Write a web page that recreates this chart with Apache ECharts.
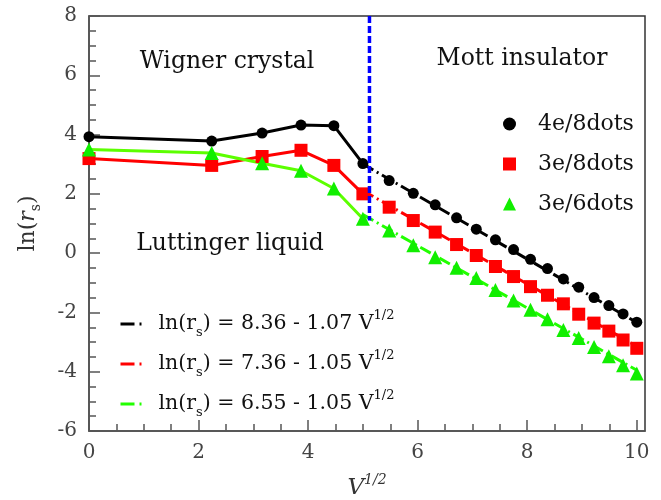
<!DOCTYPE html>
<html>
<head>
<meta charset="utf-8">
<script src="https://cdn.jsdelivr.net/npm/echarts@6/dist/echarts.min.js"></script>
<style>
    html, body { margin: 0; padding: 0; background: #fff; }
    #chart { width: 661px; height: 500px; }
</style>
</head>
<body>
<div id="chart"></div>
<script>
    // V^(1/2) positions of the computed points
    const sqrtV = [0, 2.24, 3.16, 3.87, 4.47, 5.00, 5.48, 5.92, 6.32, 6.71, 7.07, 7.42, 7.75, 8.06, 8.37, 8.66, 8.94, 9.22, 9.49, 9.75, 10.0];
    const lnRs4e8 = [3.93, 3.78, 4.05, 4.32, 4.30, 3.02, 2.45, 2.02, 1.63, 1.19, 0.81, 0.45, 0.12, -0.21, -0.52, -0.87, -1.15, -1.50, -1.77, -2.05, -2.33];
    const lnRs3e8 = [3.19, 2.96, 3.26, 3.47, 2.96, 2.00, 1.55, 1.10, 0.71, 0.29, -0.08, -0.45, -0.79, -1.13, -1.42, -1.71, -2.06, -2.36, -2.63, -2.93, -3.21];
    const lnRs3e6 = [3.50, 3.38, 3.03, 2.78, 2.18, 1.16, 0.76, 0.27, -0.14, -0.49, -0.84, -1.24, -1.60, -1.91, -2.23, -2.59, -2.86, -3.17, -3.48, -3.78, -4.06];
    const solidCount = 6; // points joined by the solid line

    // linear fits, end points
    const fitX = [5.0, 10.0];
    const fit4e8 = [3.01, -2.34];
    const fit3e8 = [2.11, -3.14];
    const fit3e6 = [1.30, -3.95];
    const fitIntercept = ['8.36', '7.36', '6.55'];
    const fitSlope = ['1.07', '1.05', '1.05'];

    // phase boundary
    const boundaryX = [5.12, 5.12];
    const boundaryY = [8, 1.1];

    const xMajorTicks = [0, 2, 4, 6, 8, 10];
    const xMinorTicks = [0.5, 1, 1.5, 2.5, 3, 3.5, 4.5, 5, 5.5, 6.5, 7, 7.5, 8.5, 9, 9.5];

    const serif = 'DejaVu Serif';
    const pts = (xs, ys, n) => xs.slice(0, n || xs.length).map((x, i) => [x, ys[i]]);
    const fitNames = fitIntercept.map((a, i) => `ln(rs) = ${a} - ${fitSlope[i]} V1/2`);
    const fitLabels = {};
    fitIntercept.forEach((a, i) => {
        fitLabels[fitNames[i]] = `{n|ln(r}{s|s}{n|) = ${a} - ${fitSlope[i]} V}{p|1/2}`;
    });

    const chart = echarts.init(document.getElementById('chart'));
    const axisGray = '#555';

    const solidLine = (name, ys, color) => ({
        name: name, type: 'line', data: pts(sqrtV, ys, solidCount),
        showSymbol: false, symbol: 'none', z: 2,
        lineStyle: {color: color, width: 3}
    });
    const fitLine = (name, ys, color) => ({
        name: name, type: 'line', data: pts(fitX, ys),
        symbol: 'none', z: 2, itemStyle: {color: color},
        lineStyle: {color: color, width: 3, type: [12, 4, 2, 4]}
    });
    const dots = (name, ys, symbol, size, color) => ({
        name: name, type: 'scatter', data: pts(sqrtV, ys),
        symbol: symbol, symbolSize: size, z: 5,
        itemStyle: {color: color, opacity: 1}
    });
    const label = (text, x, y) => ({
        type: 'text', x: x, y: y,
        style: {text: text, align: 'center', verticalAlign: 'middle', fontFamily: serif, fontSize: 23.5, fill: '#111'}
    });

    chart.setOption({
        animation: false,
        grid: {
            left: 89, right: 16, top: 16, bottom: 69, outerBoundsMode: 'none', containLabel: false,
            show: true, borderColor: '#333', borderWidth: 1.5
        },
        xAxis: [{
            type: 'value', min: 0, max: 10.15, position: 'bottom',
            axisLine: {onZero: false, lineStyle: {color: axisGray, width: 1.5}},
            axisTick: {inside: true, length: 11, customValues: xMajorTicks, lineStyle: {color: axisGray, width: 1.5}},
            axisLabel: {customValues: xMajorTicks, margin: 12, color: '#444', fontFamily: serif, fontSize: 20},
            splitLine: {show: false},
            name: '{v|V}{p|1/2}', nameLocation: 'middle', nameGap: 42,
            nameTextStyle: {
                color: '#333', fontFamily: serif,
                rich: {
                    v: {fontFamily: serif, fontStyle: 'italic', fontSize: 23, lineHeight: 30, color: '#333'},
                    p: {fontFamily: serif, fontStyle: 'italic', fontSize: 14, lineHeight: 14, verticalAlign: 'top', color: '#333'}
                }
            }
        }, {
            type: 'value', min: 0, max: 10.15, position: 'bottom',
            axisLine: {show: false, onZero: false},
            axisTick: {inside: true, length: 7, customValues: xMinorTicks, lineStyle: {color: axisGray, width: 1.5}},
            axisLabel: {show: false},
            splitLine: {show: false}
        }],
        yAxis: {
            type: 'value', min: -6, max: 8, interval: 2,
            axisLine: {lineStyle: {color: axisGray, width: 1.5}},
            axisTick: {inside: true, length: 11, lineStyle: {color: axisGray, width: 1.5}},
            minorTick: {show: true, splitNumber: 4, length: 7, lineStyle: {color: axisGray, width: 1.5}},
            axisLabel: {margin: 12, color: '#444', fontFamily: serif, fontSize: 20},
            splitLine: {show: false},
            name: '{n|ln(}{i|r}{s|s}{n|)}', nameLocation: 'middle', nameGap: 46, nameRotate: 90,
            nameTextStyle: {
                color: '#333', fontFamily: serif,
                rich: {
                    n: {fontFamily: serif, fontSize: 22, lineHeight: 30, color: '#333'},
                    i: {fontFamily: serif, fontStyle: 'italic', fontSize: 22, lineHeight: 30, color: '#333'},
                    s: {fontFamily: serif, fontSize: 14, lineHeight: 14, verticalAlign: 'bottom', color: '#333'}
                }
            }
        },
        legend: [{
            data: ['4e/8dots', '3e/8dots', '3e/6dots'],
            orient: 'vertical', left: 498, top: 104, itemGap: 10,
            itemWidth: 13, itemHeight: 13, selectedMode: false,
            textStyle: {fontFamily: serif, fontSize: 22, color: '#111', lineHeight: 30, padding: [0, 0, 0, 17]}
        }, {
            data: fitNames,
            orient: 'vertical', left: 114, top: 304, itemGap: 10,
            itemWidth: 33, itemHeight: 14, selectedMode: false,
            itemStyle: {color: 'rgba(0,0,0,0)', opacity: 0, borderWidth: 0},
            lineStyle: {width: 3, type: [14, 5, 2, 20]},
            formatter: name => fitLabels[name],
            textStyle: {
                fontFamily: serif, color: '#111',
                rich: {
                    n: {fontFamily: serif, fontSize: 20.5, lineHeight: 30, color: '#111'},
                    s: {fontFamily: serif, fontSize: 13, lineHeight: 12, verticalAlign: 'bottom', color: '#111'},
                    p: {fontFamily: serif, fontSize: 13, lineHeight: 14, verticalAlign: 'top', color: '#111'}
                }
            }
        }],
        graphic: [
            label('Wigner crystal', 227, 62),
            label('Mott insulator', 522, 59),
            label('Luttinger liquid', 230, 244)
        ],
        series: [
            solidLine('solid4e8', lnRs4e8, '#000'),
            solidLine('solid3e8', lnRs3e8, '#ff0000'),
            solidLine('solid3e6', lnRs3e6, '#5cff00'),
            fitLine(fitNames[0], fit4e8, '#000'),
            fitLine(fitNames[1], fit3e8, '#ff0000'),
            fitLine(fitNames[2], fit3e6, '#22ff00'),
            dots('4e/8dots', lnRs4e8, 'circle', 11, '#000'),
            dots('3e/8dots', lnRs3e8, 'rect', 13, '#ff0000'),
            dots('3e/6dots', lnRs3e6, 'triangle', 14, '#11ee00'),
            {
                name: 'boundary', type: 'line', data: pts(boundaryX, boundaryY),
                symbol: 'none', z: 8,
                lineStyle: {color: '#0000ff', width: 3.5, type: [7, 3]}
            }
        ]
    });
</script>
</body>
</html>
